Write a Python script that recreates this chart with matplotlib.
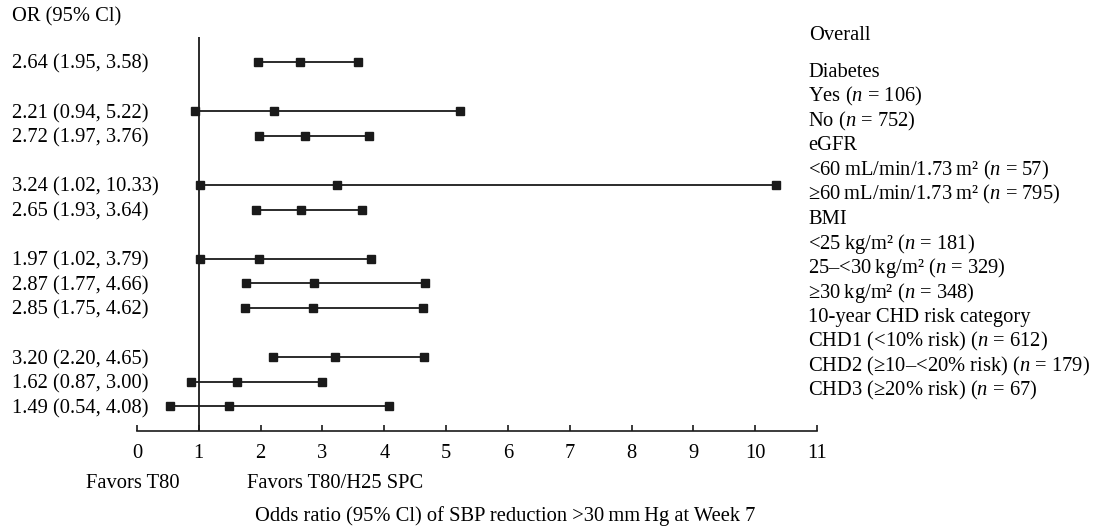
import matplotlib
matplotlib.use("Agg")
import matplotlib.pyplot as plt
import matplotlib.transforms as mtransforms

plt.rcParams['font.family'] = ['Liberation Serif', 'DejaVu Serif']
plt.rcParams['mathtext.fontset'] = 'custom'
plt.rcParams['mathtext.rm'] = 'Liberation Serif'
plt.rcParams['mathtext.it'] = 'Liberation Serif:italic'

# ---- data ----
or_labels = ["2.64 (1.95, 3.58)", "2.21 (0.94, 5.22)", "2.72 (1.97, 3.76)",
             "3.24 (1.02, 10.33)", "2.65 (1.93, 3.64)", "1.97 (1.02, 3.79)",
             "2.87 (1.77, 4.66)", "2.85 (1.75, 4.62)", "3.20 (2.20, 4.65)",
             "1.62 (0.87, 3.00)", "1.49 (0.54, 4.08)"]
or_vals = [2.64, 2.21, 2.72, 3.24, 2.65, 1.97, 2.87, 2.85, 3.20, 1.62, 1.49]
ci_low = [1.95, 0.94, 1.97, 1.02, 1.93, 1.02, 1.77, 1.75, 2.20, 0.87, 0.54]
ci_high = [3.58, 5.22, 3.76, 10.33, 3.64, 3.79, 4.66, 4.62, 4.65, 3.00, 4.08]
rows = [0, 2, 3, 5, 6, 8, 9, 10, 12, 13, 14]

group_labels = [
    "Diabetes",
    "Yes ($n$ = 106)",
    "No ($n$ = 752)",
    "eGFR",
    "<60\u2009mL/min/1.73\u2009m\u00b2 ($n$ = 57)",
    "\u226560\u2009mL/min/1.73\u2009m\u00b2 ($n$ = 795)",
    "BMI",
    "<25\u2009kg/m\u00b2 ($n$ = 181)",
    "25\u2013<30\u2009kg/m\u00b2 ($n$ = 329)",
    "\u226530\u2009kg/m\u00b2 ($n$ = 348)",
    "10-year CHD risk category",
    "CHD1 (<10% risk) ($n$ = 612)",
    "CHD2 (\u226510\u2013<20% risk) ($n$ = 179)",
    "CHD3 (\u226520% risk) ($n$ = 67)",
]
xticks = list(range(0, 12))

W, H = 1100, 531
fig = plt.figure(figsize=(W / 100, H / 100), dpi=100)
left, right = 137 / W, 817 / W
top_px, bot_px = 37.4, 431
ax = fig.add_axes([left, 1 - bot_px / H, right - left, (bot_px - top_px) / H])

FS = 14.8
col = "#1a1a1a"
for r, o, lo, hi in zip(rows, or_vals, ci_low, ci_high):
    ax.plot([lo, hi], [r, r], color=col, lw=1.3, zorder=2, clip_on=False)
    ax.plot([lo, o, hi], [r, r, r], ls="none", marker="s", ms=5.2, color=col,
            zorder=3, clip_on=False)

ax.axvline(1, color=col, lw=1.3, zorder=1)
ax.set_xlim(0, 11)
ax.set_ylim(15.0, -1.0)
ax.set_xticks(xticks)
ax.set_xticklabels([str(t) for t in xticks], fontsize=FS)
ax.tick_params(axis="x", direction="in", length=4, width=1.2, pad=9, colors=col)
ax.tick_params(axis="x", labelcolor="black")
ax.set_yticks([])
for s in ["top", "right", "left"]:
    ax.spines[s].set_visible(False)
ax.spines["bottom"].set_linewidth(1.2)
ax.spines["bottom"].set_color(col)

dy = 0.09
trans = mtransforms.blended_transform_factory(fig.transFigure, ax.transData)
for r, lab in zip(rows, or_labels):
    ax.text(12 / W, r + dy, lab, transform=trans, fontsize=FS, va="center", ha="left",
            clip_on=False)
fig.text(12 / W, 1 - 17 / H, "OR (95% Cl)", fontsize=FS, va="center", ha="left")

fig.text(809 / W, 1 - 35 / H, "Overall", fontsize=FS, va="center", ha="left")
for i, lab in enumerate(group_labels):
    ax.text(808 / W, 0.33 + dy + i * 0.995, lab, transform=trans, fontsize=FS,
            va="center", ha="left", clip_on=False)

fig.text(86 / W, 1 - 483 / H, "Favors T80", fontsize=FS, va="center", ha="left")
fig.text(247 / W, 1 - 483 / H, "Favors T80/H25 SPC", fontsize=FS, va="center", ha="left")
fig.text(505 / W, 1 - 516 / H,
         "Odds ratio (95% Cl) of SBP reduction >30\u2009mm\u2009Hg at Week 7",
         fontsize=FS, va="center", ha="center")

fig.savefig("out.png", dpi=100)
